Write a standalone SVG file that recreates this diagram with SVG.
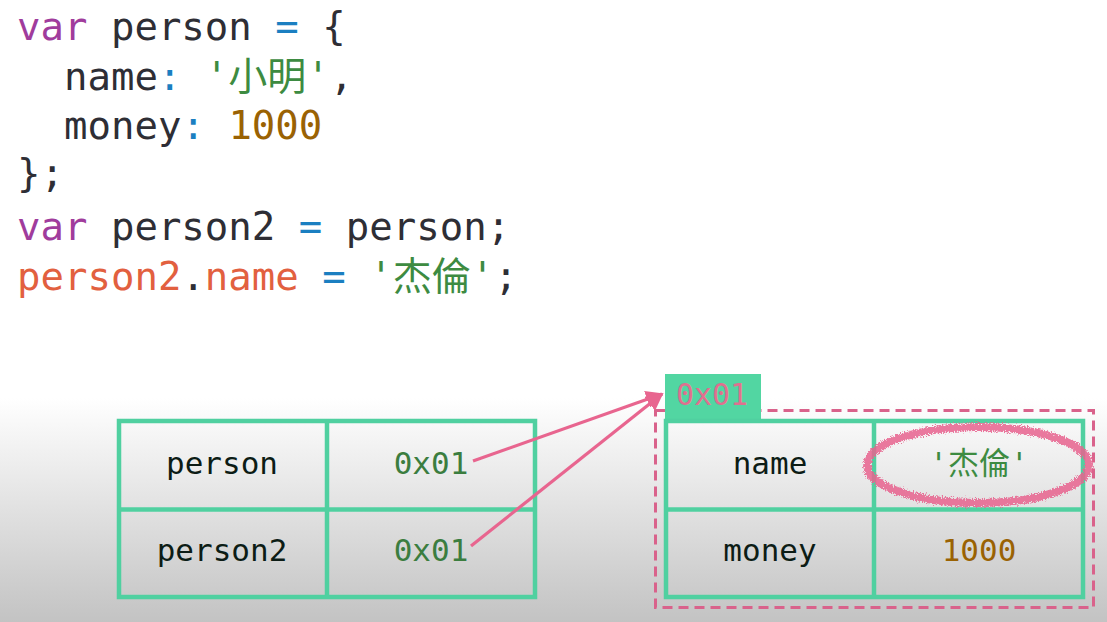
<svg xmlns="http://www.w3.org/2000/svg" width="1107" height="622" viewBox="0 0 1107 622">
  <style>
    .code { font-family: "DejaVu Sans Mono", "Noto Sans CJK TC", monospace; font-size: 39px; fill: #2e2e35; }
    .cell { font-family: "DejaVu Sans Mono", "Noto Sans CJK TC", monospace; font-size: 31px; fill: #0c1c15; text-anchor: middle; }
    .kw { fill: #a03c9c; }
    .op { fill: #1b7fc1; }
    .str { fill: #3d8b41; }
    .num { fill: #9a6203; }
    .hl { fill: #e2603f; }
    .addr { fill: #3b7d3f; }
    .tag { fill: #e0708f; font-size: 30px; }
    .grid { fill: none; stroke: #50d0a0; stroke-width: 4.5; }
    .conn { fill: none; stroke: #e8658f; stroke-width: 3.2; }
  </style>
  <defs>
    <linearGradient id="bg" x1="0" y1="0" x2="0" y2="1">
      <stop offset="0" stop-color="#ffffff"/>
      <stop offset="0.64" stop-color="#ffffff"/>
      <stop offset="1" stop-color="#c3c3c3"/>
    </linearGradient>
    <marker id="arrow" viewBox="0 0 10 10" refX="9" refY="5" markerWidth="5.5" markerHeight="5.5" orient="auto" markerUnits="strokeWidth">
      <path d="M0,0 L10,5 L0,10 z" fill="#e8658f"/>
    </marker>
    <filter id="chalk" x="-10%" y="-30%" width="120%" height="160%">
      <feTurbulence type="fractalNoise" baseFrequency="0.9" numOctaves="2" seed="3" result="n"/>
      <feDisplacementMap in="SourceGraphic" in2="n" scale="7" xChannelSelector="R" yChannelSelector="G"/>
    </filter>
  </defs>

  <rect x="0" y="0" width="1107" height="622" fill="url(#bg)"/>

  <g id="code" class="code">
    <text x="17" y="40"><tspan class="kw">var</tspan> person <tspan class="op">=</tspan> {</text>
    <text x="64" y="90">name<tspan class="op">:</tspan> <tspan class="str">'小明'</tspan>,</text>
    <text x="64" y="139">money<tspan class="op">:</tspan> <tspan class="num">1000</tspan></text>
    <text x="17" y="187">};</text>
    <text x="17" y="240"><tspan class="kw">var</tspan> person2 <tspan class="op">=</tspan> person;</text>
    <text x="17" y="290"><tspan class="hl">person2</tspan>.<tspan class="hl">name</tspan> <tspan class="op">=</tspan> <tspan class="str">'杰倫'</tspan>;</text>
  </g>

  <g id="stack">
    <rect class="grid" x="119" y="421" width="416" height="176"/>
    <line class="grid" x1="327" y1="421" x2="327" y2="597"/>
    <line class="grid" x1="119" y1="509.5" x2="535" y2="509.5"/>
    <text class="cell" x="222" y="474">person</text>
    <text class="cell addr" x="431" y="474">0x01</text>
    <text class="cell" x="222" y="561">person2</text>
    <text class="cell addr" x="431" y="561">0x01</text>
  </g>

  <g id="heap">
    <rect x="655.5" y="410.5" width="438" height="197" fill="none" stroke="#d9628b" stroke-width="3" stroke-dasharray="10 6"/>
    <rect x="665" y="374" width="96" height="49" fill="#52d6a2"/>
    <text class="cell tag" x="712" y="405">0x01</text>
    <rect class="grid" x="666" y="421" width="417" height="176"/>
    <line class="grid" x1="874" y1="421" x2="874" y2="597"/>
    <line class="grid" x1="666" y1="509.5" x2="1083" y2="509.5"/>
    <text class="cell" x="770" y="474">name</text>
    <text class="cell str" x="979" y="474">'杰倫'</text>
    <text class="cell" x="770" y="561">money</text>
    <text class="cell num" x="979" y="561">1000</text>
    <ellipse cx="978" cy="465" rx="111" ry="38" fill="none" stroke="#e8638f" stroke-width="8" opacity="0.85" filter="url(#chalk)"/>
  </g>

  <g id="connectors">
    <line class="conn" x1="473" y1="461" x2="662" y2="394" marker-end="url(#arrow)"/>
    <line class="conn" x1="471" y1="546" x2="662" y2="394" marker-end="url(#arrow)"/>
  </g>
</svg>
